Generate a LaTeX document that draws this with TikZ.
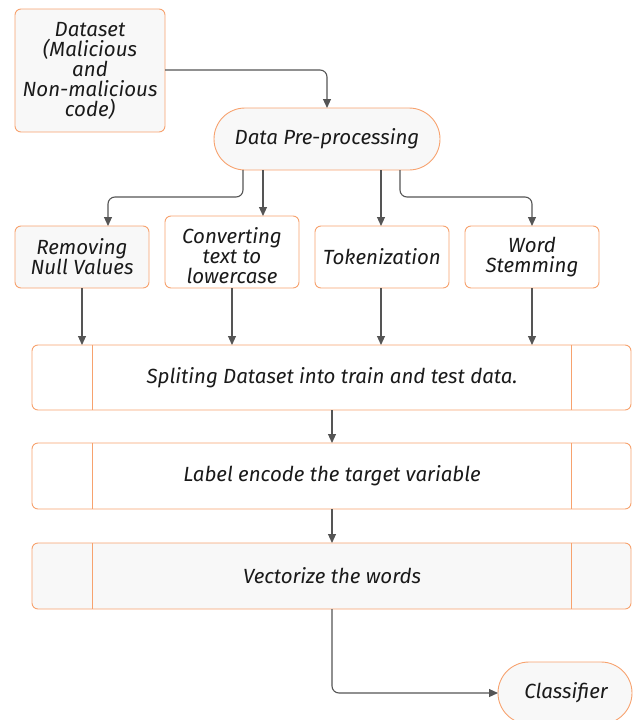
\documentclass[tikz,border=0pt]{standalone}
\usepackage{fontspec}
\setmainfont{Fira Sans}
\usetikzlibrary{arrows.meta,calc}
\definecolor{bord}{HTML}{F7A26E}
\definecolor{fillg}{HTML}{F8F8F8}
\definecolor{linec}{HTML}{555555}
\definecolor{txt}{HTML}{1A1A1A}
\begin{document}
\begin{tikzpicture}[x=1pt,y=-1pt,
  txtfont/.style={font=\fontsize{20.5}{20}\selectfont\itshape, text=txt, align=center, inner sep=0pt},
  box/.style={draw=bord, line width=0.9pt, rounded corners=6pt},
  conn/.style={draw=linec, line width=1.1pt, rounded corners=7pt, -{Triangle[length=9pt,width=8pt]}}
]
\useasboundingbox (0,0) rectangle (637,720);
% Dataset
\draw[box, fill=fillg] (15,9) rectangle (165,132);
\node[txtfont] (ds) at (90,71) {Dataset\\(Malicious\\and\\Non-malicious\\code)};
% Data Pre-processing
\draw[draw=bord, line width=0.9pt, fill=fillg, rounded corners=31pt] (214,108) rectangle (440,170);
\node[txtfont] (dp) at (327,139) {Data Pre-processing};
% four boxes
\draw[box, fill=fillg] (15,226) rectangle (149,288);
\node[txtfont] (rn) at (82,257) {Removing\\Null Values};
\draw[box, fill=white] (165,216) rectangle (299,288);
\node[txtfont] (ct) at (232,256) {Converting\\text to\\lowercase};
\draw[box, fill=white] (315,226) rectangle (449,288);
\node[txtfont] (tk) at (382,257) {Tokenization};
\draw[box, fill=white] (465,226) rectangle (599,288);
\node[txtfont] (ws) at (532,257) {Word\\Stemming};
% process boxes
\draw[box, fill=white] (32,345) rectangle (631,410);
\draw[draw=bord, line width=0.9pt] (92,345) -- (92,410) (571,345) -- (571,410);
\node[txtfont] (sp) at (332,377.5) {Spliting Dataset into train and test data.};
\draw[box, fill=white] (32,443) rectangle (631,509);
\draw[draw=bord, line width=0.9pt] (92,443) -- (92,509) (571,443) -- (571,509);
\node[txtfont] (le) at (332,476) {Label encode the target variable};
\draw[box, fill=fillg] (32,543) rectangle (631,609);
\draw[draw=bord, line width=0.9pt] (92,543) -- (92,609) (571,543) -- (571,609);
\node[txtfont] (vw) at (332,576) {Vectorize the words};
% classifier
\draw[draw=bord, line width=0.9pt, fill=fillg, rounded corners=31pt] (498,662) rectangle (632,724);
\node[txtfont] (cl) at (566,693) {Classifier};
% connectors
\draw[conn] (165,70) -- (327,70) -- (327,108);
\draw[conn] (243,170) -- (243,197) -- (108,197) -- (108,226);
\draw[conn] (263,170) -- (263,216);
\draw[conn] (381,170) -- (381,226);
\draw[conn] (400,170) -- (400,197) -- (532,197) -- (532,226);
\draw[conn] (82,288) -- (82,345);
\draw[conn] (232,288) -- (232,345);
\draw[conn] (381,288) -- (381,345);
\draw[conn] (532,288) -- (532,345);
\draw[conn] (332,410) -- (332,443);
\draw[conn] (332,509) -- (332,543);
\draw[conn] (332,609) -- (332,693) -- (498,693);
\end{tikzpicture}
\end{document}
